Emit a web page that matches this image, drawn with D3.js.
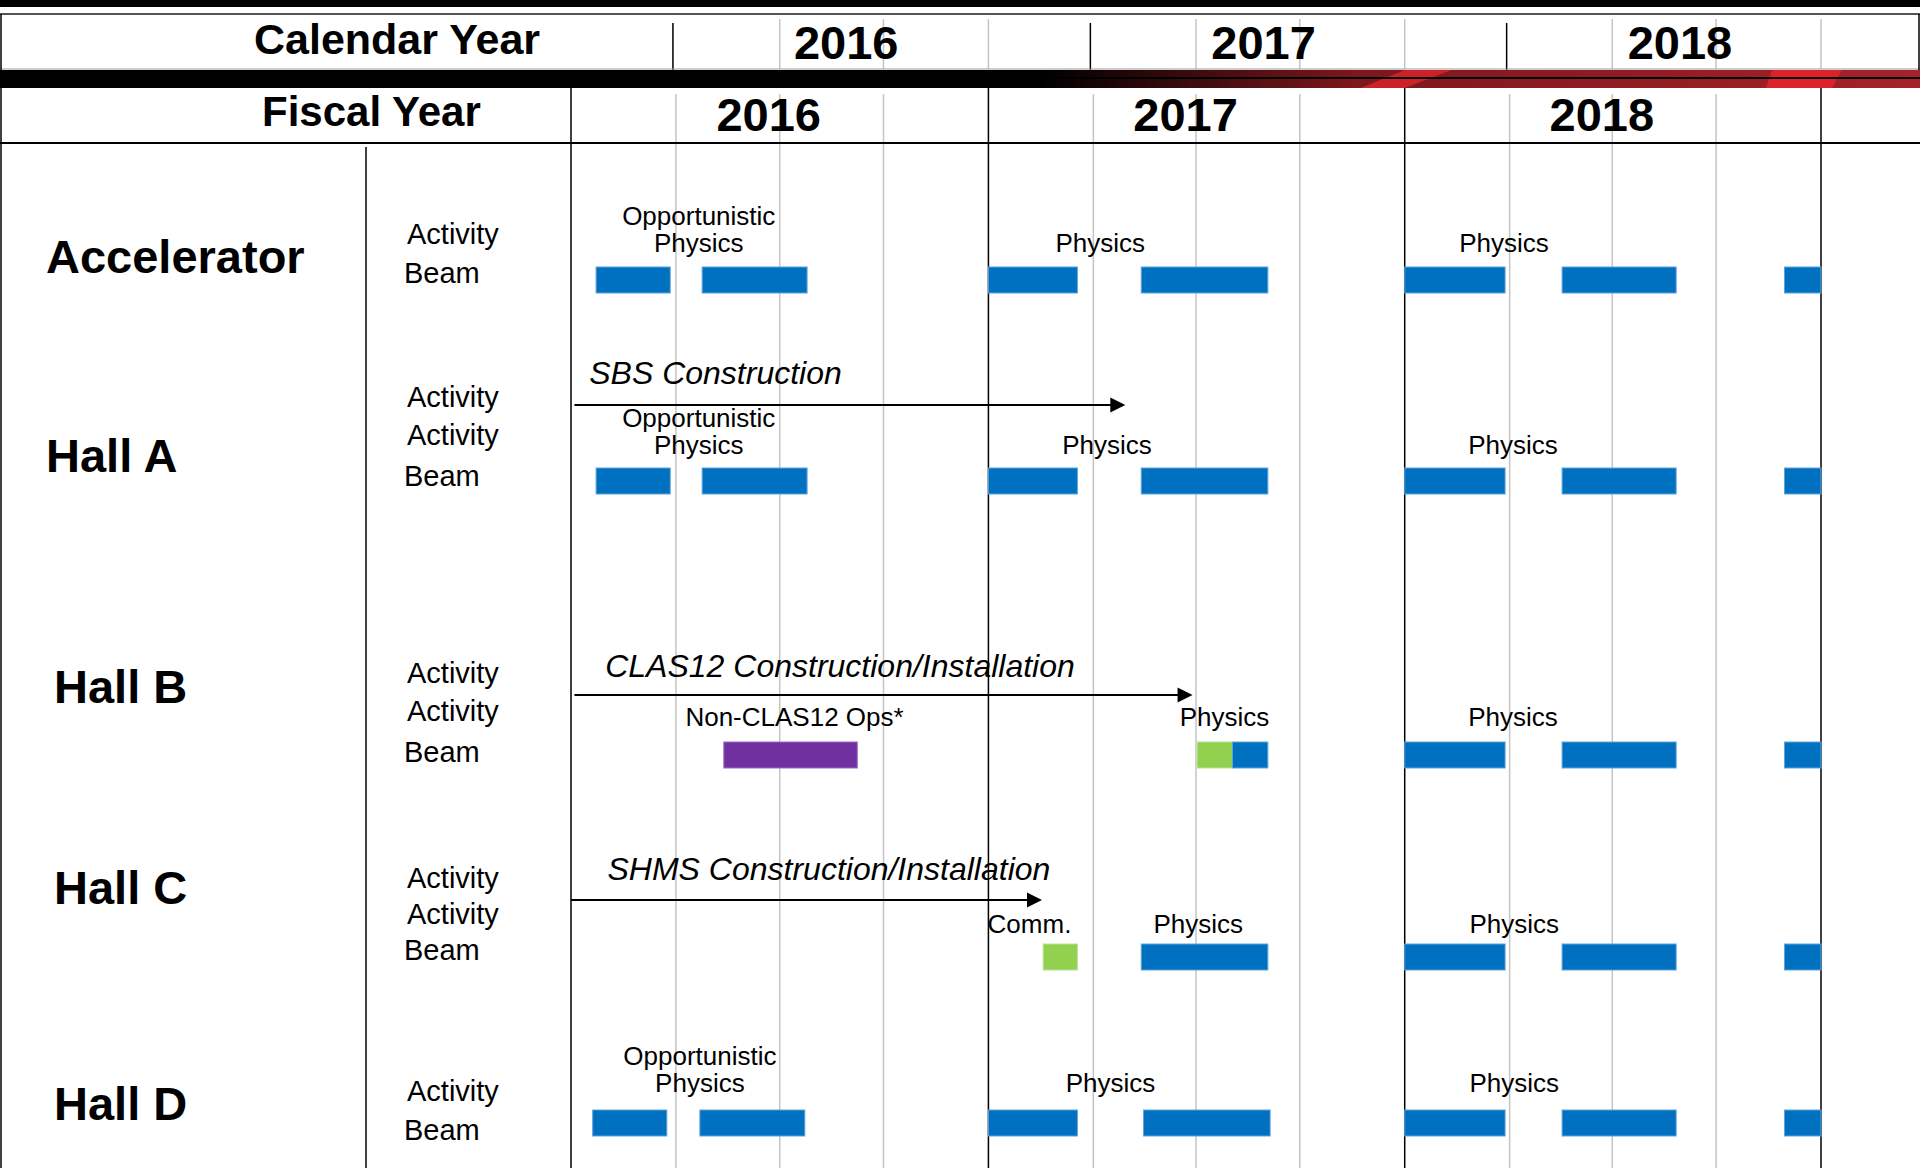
<!DOCTYPE html>
<html><head><meta charset="utf-8">
<script src="https://cdn.jsdelivr.net/npm/d3@7"></script>
<style>
html,body{margin:0;padding:0;background:#fff;}
svg{display:block;font-family:"Liberation Sans", Arial, Helvetica, sans-serif;}
</style></head><body>
<svg id="chart" width="1920" height="1168"></svg>
<script>
// ---------------- data ----------------
const fiscalYears = ["2016", "2017", "2018"];
const calendarYears = ["2016", "2017", "2018"];
const halls = ["Accelerator", "Hall A", "Hall B", "Hall C", "Hall D"];
const rowLabels = [
  ["Activity", "Beam"],
  ["Activity", "Activity", "Beam"],
  ["Activity", "Activity", "Beam"],
  ["Activity", "Activity", "Beam"],
  ["Activity", "Beam"]
];

// beam periods: [hall, start, end, kind]
const beamPeriods = [
  ["Accelerator", "2015-10-23", "2015-12-27", "physics"],
  ["Accelerator", "2016-01-24", "2016-04-25", "physics"],
  ["Accelerator", "2016-10-01", "2016-12-18", "physics"],
  ["Accelerator", "2017-02-12", "2017-06-03", "physics"],
  ["Accelerator", "2017-10-01", "2017-12-28", "physics"],
  ["Accelerator", "2018-02-16", "2018-05-27", "physics"],
  ["Accelerator", "2018-08-30", "2018-10-01", "physics"],
  ["Hall A", "2015-10-23", "2015-12-27", "physics"],
  ["Hall A", "2016-01-24", "2016-04-25", "physics"],
  ["Hall A", "2016-10-01", "2016-12-18", "physics"],
  ["Hall A", "2017-02-12", "2017-06-03", "physics"],
  ["Hall A", "2017-10-01", "2017-12-28", "physics"],
  ["Hall A", "2018-02-16", "2018-05-27", "physics"],
  ["Hall A", "2018-08-30", "2018-10-01", "physics"],
  ["Hall B", "2016-02-12", "2016-06-08", "nonclas"],
  ["Hall B", "2017-04-02", "2017-05-03", "commissioning"],
  ["Hall B", "2017-05-03", "2017-06-03", "physics"],
  ["Hall B", "2017-10-01", "2017-12-28", "physics"],
  ["Hall B", "2018-02-16", "2018-05-27", "physics"],
  ["Hall B", "2018-08-30", "2018-10-01", "physics"],
  ["Hall C", "2016-11-18", "2016-12-18", "commissioning"],
  ["Hall C", "2017-02-12", "2017-06-03", "physics"],
  ["Hall C", "2017-10-01", "2017-12-28", "physics"],
  ["Hall C", "2018-02-16", "2018-05-27", "physics"],
  ["Hall C", "2018-08-30", "2018-10-01", "physics"],
  ["Hall D", "2015-10-20", "2015-12-24", "physics"],
  ["Hall D", "2016-01-22", "2016-04-23", "physics"],
  ["Hall D", "2016-10-01", "2016-12-18", "physics"],
  ["Hall D", "2017-02-14", "2017-06-05", "physics"],
  ["Hall D", "2017-10-01", "2017-12-28", "physics"],
  ["Hall D", "2018-02-16", "2018-05-27", "physics"],
  ["Hall D", "2018-08-30", "2018-10-01", "physics"]
];

// construction periods (arrows)
const constructionHall = ["Hall A", "Hall B", "Hall C"];
const constructionText = ["SBS Construction", "CLAS12 Construction/Installation", "SHMS Construction/Installation"];
const constructionCaptionAt = ["2015-10-17", "2015-10-31", "2015-11-02"];
const constructionStart = ["2015-10-04", "2015-10-04", "2015-10-01"];
const constructionEnd = ["2017-01-29", "2017-03-29", "2016-11-17"];

// activity notes above beam rows: [hall, centre date, lines]
const activityNotes = [
  ["Accelerator", "2016-01-21", ["Opportunistic", "Physics"]],
  ["Accelerator", "2017-01-07", ["Physics"]],
  ["Accelerator", "2017-12-27", ["Physics"]],
  ["Hall A", "2016-01-21", ["Opportunistic", "Physics"]],
  ["Hall A", "2017-01-13", ["Physics"]],
  ["Hall A", "2018-01-04", ["Physics"]],
  ["Hall B", "2016-04-14", ["Non-CLAS12 Ops*"]],
  ["Hall B", "2017-04-26", ["Physics"]],
  ["Hall B", "2018-01-04", ["Physics"]],
  ["Hall C", "2016-11-06", ["Comm."]],
  ["Hall C", "2017-04-03", ["Physics"]],
  ["Hall C", "2018-01-05", ["Physics"]],
  ["Hall D", "2016-01-22", ["Opportunistic", "Physics"]],
  ["Hall D", "2017-01-16", ["Physics"]],
  ["Hall D", "2018-01-05", ["Physics"]]
];

// ---------------- layout ----------------
const W = 1920, H = 1168;
const hallLayout = {
  "Accelerator": {nameX: 46, name: 273, rows: [244, 283], beam: 267, noteGap: 15},
  "Hall A":      {nameX: 46, name: 472, rows: [407, 445, 486], beam: 468, noteGap: 14, arrow: 405, capGap: 21},
  "Hall B":      {nameX: 54, name: 703, rows: [683, 721, 762], beam: 742, noteGap: 16, arrow: 695, capGap: 18},
  "Hall C":      {nameX: 54, name: 904, rows: [888, 924, 960], beam: 944, noteGap: 11, arrow: 900, capGap: 20},
  "Hall D":      {nameX: 54, name: 1120, rows: [1101, 1140], beam: 1110, noteGap: 18}
};
const barH = 26;
const colors = {physics: "#0070C0", commissioning: "#92D050", nonclas: "#7030A0"};
const edge = {physics: "#5fa3dc", commissioning: "#b9e38f", nonclas: "#9a6cc0"};

const parse = d3.timeParse("%Y-%m-%d");
const x = d3.scaleTime()
  .domain([parse("2015-10-01"), parse("2018-10-01")])
  .range([571, 1821]);

const svg = d3.select("#chart");

// ---------------- header decoration ----------------
const defs = svg.append("defs");
const grad = defs.append("linearGradient").attr("id", "redfade")
  .attr("gradientUnits", "userSpaceOnUse").attr("x1", 1040).attr("x2", 1920).attr("y1", 0).attr("y2", 0);
grad.append("stop").attr("offset", "0").attr("stop-color", "#000");
grad.append("stop").attr("offset", "0.36").attr("stop-color", "#7d171c");
grad.append("stop").attr("offset", "1").attr("stop-color", "#a5222a");

svg.append("rect").attr("x", 0).attr("y", 0).attr("width", W).attr("height", 7).attr("fill", "#000");
svg.append("line").attr("x1", 0).attr("x2", W).attr("y1", 14).attr("y2", 14).attr("stroke", "#555").attr("stroke-width", 2);

const quarters = d3.timeMonth.every(3).range(parse("2015-10-01"), parse("2018-10-02"));
const fyStarts = quarters.filter(d => d.getMonth() === 9);
const innerQuarters = quarters.filter(d => d.getMonth() !== 9);
const calStarts = quarters.filter(d => d.getMonth() === 0);

const grid = svg.append("g");
grid.selectAll(".cq").data(quarters.filter(d => d.getMonth() !== 0 && +d !== +x.domain()[0]))
  .join("line").attr("x1", d => x(d)).attr("x2", d => x(d)).attr("y1", 19).attr("y2", 69)
  .attr("stroke", "#c4c4c4").attr("stroke-width", 1.5);
grid.selectAll(".cy").data(calStarts)
  .join("line").attr("x1", d => x(d) - 3).attr("x2", d => x(d) - 3).attr("y1", 23).attr("y2", 70)
  .attr("stroke", "#000").attr("stroke-width", 1.5);
grid.selectAll(".gq").data(innerQuarters)
  .join("line").attr("x1", d => x(d)).attr("x2", d => x(d)).attr("y1", 94).attr("y2", H)
  .attr("stroke", "#c4c4c4").attr("stroke-width", 1.5);

svg.append("line").attr("x1", 0).attr("x2", W).attr("y1", 69).attr("y2", 69).attr("stroke", "#999").attr("stroke-width", 1);
svg.append("rect").attr("x", 0).attr("y", 70).attr("width", W).attr("height", 18).attr("fill", "#000");
svg.append("rect").attr("x", 1040).attr("y", 70).attr("width", W - 1040).attr("height", 18).attr("fill", "url(#redfade)");
const s1 = x(parse("2017-10-01")), s2 = x(parse("2018-10-01"));
svg.append("path").attr("fill", "#d9232b").attr("opacity", 0.85)
  .attr("d", `M${s1},70 L${s1 + 47},70 L${s1},88 L${s1 - 44},88 Z`);
svg.append("path").attr("fill", "#dc2129")
  .attr("d", `M${s2 - 49},70 L${s2 + 21},70 L${s2 + 11},88 L${s2 - 55},88 Z`);
svg.append("line").attr("x1", 0).attr("x2", W).attr("y1", 78).attr("y2", 78).attr("stroke", "#000").attr("stroke-width", 2);

grid.selectAll(".fy").data(fyStarts)
  .join("line").attr("x1", d => x(d)).attr("x2", d => x(d)).attr("y1", (d, i) => i === 0 ? 88 : 79).attr("y2", H)
  .attr("stroke", "#000").attr("stroke-width", 1.5);

svg.append("line").attr("x1", 0).attr("x2", W).attr("y1", 143).attr("y2", 143).attr("stroke", "#000").attr("stroke-width", 2);
svg.append("line").attr("x1", 1).attr("x2", 1).attr("y1", 14).attr("y2", H).attr("stroke", "#000").attr("stroke-width", 1.5);
svg.append("line").attr("x1", 1919).attr("x2", 1919).attr("y1", 14).attr("y2", 70).attr("stroke", "#000").attr("stroke-width", 1.5);
svg.append("line").attr("x1", 366).attr("x2", 366).attr("y1", 147).attr("y2", H).attr("stroke", "#000").attr("stroke-width", 1.5);

svg.append("text").attr("x", 254).attr("y", 54).attr("font-size", 43).attr("font-weight", "bold").text("Calendar Year");
svg.append("text").attr("x", 262).attr("y", 126).attr("font-size", 42).attr("font-weight", "bold").text("Fiscal Year");

svg.selectAll(".cyl").data(calendarYears).join("text")
  .attr("x", d => x(parse(d + "-01-01")) + 118).attr("y", 59)
  .attr("font-size", 47).attr("font-weight", "bold").text(d => d);

svg.selectAll(".fyl").data(fiscalYears).join("text")
  .attr("x", d => (x(parse((+d - 1) + "-10-01")) + x(parse(d + "-10-01"))) / 2 - 11).attr("y", 131)
  .attr("text-anchor", "middle").attr("font-size", 47).attr("font-weight", "bold").text(d => d);

// ---------------- hall names and row labels ----------------
svg.selectAll(".hall").data(halls).join("text")
  .attr("x", d => hallLayout[d].nameX).attr("y", d => hallLayout[d].name)
  .attr("font-size", 47).attr("font-weight", "bold").text(d => d);

halls.forEach((h, i) => {
  svg.selectAll(null).data(rowLabels[i]).join("text")
    .attr("x", (d, j) => d === "Beam" ? 404 : 407).attr("y", (d, j) => hallLayout[h].rows[j])
    .attr("font-size", 29).text(d => d);
});

// ---------------- beam bars ----------------
svg.append("g").selectAll("rect").data(beamPeriods).join("rect")
  .attr("x", d => x(parse(d[1])))
  .attr("width", d => x(parse(d[2])) - x(parse(d[1])))
  .attr("y", d => hallLayout[d[0]].beam)
  .attr("height", barH)
  .attr("fill", d => colors[d[3]])
  .attr("stroke", d => edge[d[3]]).attr("stroke-width", 1);

// ---------------- construction arrows ----------------
constructionHall.forEach((h, i) => {
  const y = hallLayout[h].arrow;
  const x0 = x(parse(constructionStart[i])), x1 = x(parse(constructionEnd[i]));
  svg.append("line").attr("x1", x0).attr("x2", x1 - 12).attr("y1", y).attr("y2", y)
    .attr("stroke", "#000").attr("stroke-width", 2.2);
  svg.append("path").attr("fill", "#000")
    .attr("d", `M${x1},${y} L${x1 - 15},${y - 7.5} L${x1 - 15},${y + 7.5} Z`);
  svg.append("text").attr("x", x(parse(constructionCaptionAt[i]))).attr("y", y - hallLayout[h].capGap)
    .attr("font-size", 32).attr("font-style", "italic").text(constructionText[i]);
});

// ---------------- activity notes ----------------
activityNotes.forEach(n => {
  const L = hallLayout[n[0]];
  const base = L.beam - L.noteGap;
  const lines = n[2];
  svg.append("text").attr("text-anchor", "middle").attr("font-size", 26)
    .selectAll("tspan").data(lines).join("tspan")
    .attr("x", x(parse(n[1])))
    .attr("y", (d, j) => base - (lines.length - 1 - j) * 27)
    .text(d => d);
});
</script>
</body></html>
